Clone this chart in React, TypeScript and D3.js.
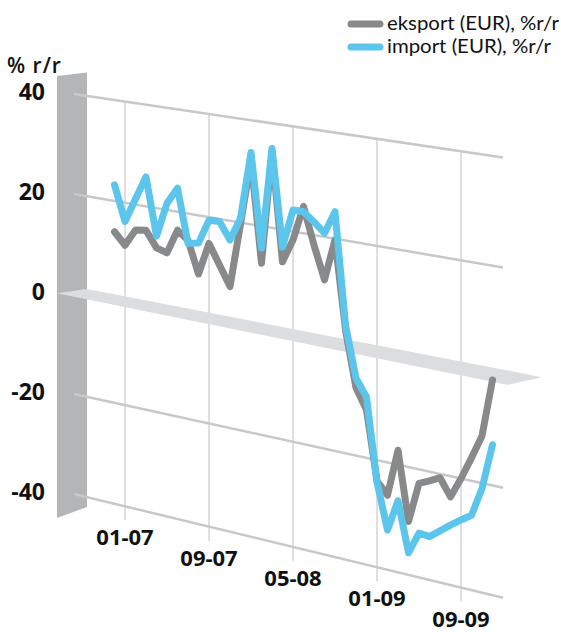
import React from "react";
import * as d3 from "d3";

const months = [
  "12-06",
  "01-07","02-07","03-07","04-07","05-07","06-07","07-07","08-07","09-07","10-07","11-07","12-07",
  "01-08","02-08","03-08","04-08","05-08","06-08","07-08","08-08","09-08","10-08","11-08","12-08",
  "01-09","02-09","03-09","04-09","05-09","06-09","07-09","08-09","09-09","10-09","11-09","12-09",
];

const eksport = [
  13.9, 11.6, 15.0, 15.3, 12.2, 11.6, 16.4, 14.8, 8.6, 14.9, 11.1, 7.3, 19.7,
  32.4, 12.9, 34.6, 13.9, 18.4, 25.1, 18.1, 11.9, 19.8, 3.2, -7.3, -11.0,
  -23.9, -26.1, -17.3, -30.1, -22.6, -21.7, -20.7, -23.8, -20.0, -15.8, -11.4, -0.8,
];

const importSeries = [
  23.2, 16.3, 21.1, 25.8, 14.5, 21.3, 24.6, 14.2, 14.6, 19.4, 19.5, 16.3, 20.8,
  33.8, 15.8, 35.2, 16.7, 24.1, 24.1, 22.5, 20.7, 25.1, 4.1, -5.5, -8.6,
  -24.1, -32.6, -26.7, -35.9, -31.8, -32.0, -30.5, -29.0, -27.6, -26.3, -21.0, -12.6,
];

const xTickLabels = ["01-07", "09-07", "05-08", "01-09", "09-09"];
const yTicks = [40, 20, 0, -20, -40];
const gridValues = [40, 20, -20, -40];

const seriesNames = ["eksport (EUR), %r/r", "import (EUR), %r/r"];
const seriesColors = ["#88898b", "#5bc5ec"];

const W = 561;
const H = 632;

// Perspective plane: the value scale at the plane's left and right edges.
const PLANE_L = 74;
const PLANE_R = 500;
const yLeft = d3.scaleLinear().domain([-40, 40]).range([494, 94]);
const yRight = d3.scaleLinear().domain([-40, 40]).range([597, 157]);
const tScale = d3.scaleLinear().domain([PLANE_L, PLANE_R]).range([0, 1]);
const py = (v: number, x: number) => {
  const t = tScale(x);
  return yLeft(v) * (1 - t) + yRight(v) * t;
};

const x = d3.scaleLinear().domain([0, months.length - 1]).range([114.5, 492.5]);

const FONT = "'Open Sans', 'DejaVu Sans', sans-serif";

export default function App() {
  const line = d3
    .line<number>()
    .x((_, i) => x(i))
    .y((d, i) => py(d, x(i)))
    .curve(d3.curveLinear);

  const WALL_L = 57;
  const WALL_R = 87;
  const wall = [
    [WALL_L, 76],
    [WALL_R, 72.5],
    [WALL_R, 507],
    [WALL_L, 518],
  ];

  const band = [
    [WALL_R, py(0, WALL_R) - 7.5],
    [542, py(0, 542) - 8],
    [507, py(0, 507) + 6.5],
    [WALL_L, py(0, WALL_L) + 2.5],
  ];

  const gridEnd = 503;

  return (
    <svg
      width={W}
      height={H}
      style={{ position: "absolute", left: 0, top: 0, background: "#fff" }}
    >
      <rect x={0} y={0} width={W} height={H} fill="#fff" />
      {/* side wall */}
      <polygon points={wall.map((p) => p.join(",")).join(" ")} fill="#b4b5b7" />

      {/* vertical gridlines */}
      {xTickLabels.map((lab) => {
        const xi = x(months.indexOf(lab));
        return (
          <line
            key={"v" + lab}
            x1={xi}
            x2={xi}
            y1={py(40, xi)}
            y2={py(-40, xi) + 14}
            stroke="#dcdcdc"
            strokeWidth={1.8}
          />
        );
      })}

      {/* horizontal gridlines */}
      {gridValues.map((v) => (
        <line
          key={"h" + v}
          x1={PLANE_L}
          x2={gridEnd}
          y1={py(v, PLANE_L)}
          y2={py(v, gridEnd)}
          stroke="#c8c8c9"
          strokeWidth={2.5}
        />
      ))}

      {/* zero slab */}
      <polygon points={band.map((p) => p.join(",")).join(" ")} fill="#dcdddf" />

      {/* series */}
      {[eksport, importSeries].map((s, k) => (
        <path
          key={"s" + k}
          d={line(s) || ""}
          fill="none"
          stroke={seriesColors[k]}
          strokeWidth={7}
          strokeLinejoin="round"
          strokeLinecap="round"
        />
      ))}

      {/* y labels */}
      {yTicks.map((v) => (
        <text
          key={"y" + v}
          x={45}
          y={yLeft(v) + 6}
          textAnchor="end"
          fontFamily={FONT}
          fontWeight={700}
          fontSize={23}
          fill="#111"
        >
          {v}
        </text>
      ))}

      {/* x labels */}
      {xTickLabels.map((lab) => {
        const xi = x(months.indexOf(lab));
        return (
          <text
            key={"x" + lab}
            x={xi}
            y={py(-40, xi) + 39}
            textAnchor="middle"
            fontFamily={FONT}
            fontWeight={700}
            fontSize={22}
            fill="#111"
          >
            {lab}
          </text>
        );
      })}

      {/* unit label */}
      <text
        x={7}
        y={73}
        fontFamily={FONT}
        fontWeight={600}
        fontSize={21}
        letterSpacing={1}
        fill="#111"
      >
        % r/r
      </text>

      {/* legend */}
      {seriesNames.map((name, k) => (
        <g key={"l" + k}>
          <line
            x1={351}
            x2={380}
            y1={24 + k * 23}
            y2={24 + k * 23}
            stroke={seriesColors[k]}
            strokeWidth={7}
            strokeLinecap="round"
          />
          <text
            x={387}
            y={30 + k * 23}
            fontFamily="Lato, 'Open Sans', sans-serif"
            fontSize={20}
            fill="#111"
            textLength={k === 0 ? 172 : 164}
            lengthAdjust="spacingAndGlyphs"
          >
            {name}
          </text>
        </g>
      ))}
    </svg>
  );
}
